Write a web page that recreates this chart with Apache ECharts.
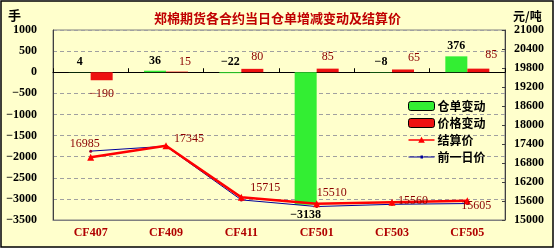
<!DOCTYPE html>
<html><head><meta charset="utf-8">
<script src="https://cdn.jsdelivr.net/npm/echarts@6/dist/echarts.min.js"></script>
<style>html,body{margin:0;padding:0;background:#fff}#c{width:555px;height:250px}</style>
</head><body><div id="c"></div>
<script>
const categories = ['CF407','CF409','CF411','CF501','CF503','CF505'];
const receiptChange = [4, 36, -22, -3138, -8, 376];
const priceChange = [-190, 15, 80, 85, 65, 85];
const settlePrice = [16985, 17345, 15715, 15510, 15560, 15605];
const prevPrice = [17175, 17330, 15635, 15425, 15495, 15520];
const leftTicks = {min: -3500, max: 1000, interval: 500};
const rightTicks = {min: 15000, max: 21000, interval: 600};

const serif = '"Liberation Serif","Times New Roman",serif';
const cjk = '"Noto Sans CJK SC",sans-serif';
const darkRed = '#8B0000';
const fmt = v => String(v).replace('-', '\u2212');

// label tweaks (style only)
const receiptLabelPos = ['top','top','top','bottom','top','top'];
const priceLabelOff = [[0,2],[8,2],[5,0],[0,0],[11,0],[13,-2]];
const priceLabelPos = ['bottom','top','top','top','top','top'];
const settleLabelOff = [[-6,-13],[23,-7],[24,-10],[15,-11],[21,-1],[9,5]];

const settleIcon = 'path://M0,0L0.01,0L0.01,0.01ZM0,9L0.01,9L0.01,8.99ZM0,3.7L26,3.7L26,5.3L0,5.3ZM13,1.2L16.3,7.2L9.7,7.2Z';
const prevIcon = 'path://M0,0L0.01,0L0.01,0.01ZM0,9L0.01,9L0.01,8.99ZM0,4L26,4L26,5L0,5ZM12,3L14.5,3L14.5,6L12,6Z';

const chart = echarts.init(document.getElementById('c'), null, {renderer:'canvas'});
chart.setOption({
  backgroundColor: 'transparent',
  animation: false,
  graphic: [{
    type:'rect', z:-10, silent:true,
    shape:{x:1,y:1,width:552,height:246},
    style:{fill:'#FFFFCC', stroke:'#000', lineWidth:1.5}
  }],
  title: {
    text: '郑棉期货各合约当日仓单增减变动及结算价',
    left: 'center', top: 7,
    textStyle: {fontFamily: cjk, fontSize: 13, fontWeight: 'bold', color: '#C00000'}
  },
  legend: {
    orient: 'vertical', left: 403, top: 95, itemGap: 5,
    itemWidth: 26, itemHeight: 9,
    textStyle: {fontFamily: cjk, fontSize: 12, fontWeight: 'bold', color: '#000', padding:[0,0,0,-2]},
    data: [
      {name:'仓单变动', itemStyle:{borderColor:'#000', borderWidth:1}},
      {name:'价格变动', itemStyle:{borderColor:'#000', borderWidth:1}},
      {name:'结算价', icon: settleIcon, itemStyle:{color:'#FF0000'}},
      {name:'前一日价', icon: prevIcon, itemStyle:{color:'#000099'}}
    ]
  },
  grid: {left: 53, right: 50, top: 30, bottom: 30, show: true, borderColor: '#808080', borderWidth: 1, backgroundColor:'transparent'},
  xAxis: [{
    type: 'category', data: categories, position: 'bottom',
    axisLine: {onZero: false, lineStyle:{color:'#808080'}},
    axisTick: {show: false},
    axisLabel: {margin: 7, fontFamily: serif, fontSize: 12, fontWeight: 'bold', color: '#B00000'}
  },{
    type: 'category', data: categories, position: 'bottom',
    axisLine: {onZero: true, onZeroAxisIndex: 0, lineStyle:{color:'#000', width:1}},
    axisTick: {show: true, inside: true, length: 4, lineStyle:{color:'#000'}},
    axisLabel: {show: false}
  }],
  yAxis: [{
    type: 'value', min: leftTicks.min, max: leftTicks.max, interval: leftTicks.interval,
    name: '手', nameLocation: 'end', nameGap: 8,
    nameTextStyle: {fontFamily: cjk, fontSize: 13, fontWeight: 'bold', color: '#000', align: 'right', padding:[0,32,0,0]},
    axisLine: {show: true, lineStyle:{color:'#404040'}},
    axisTick: {show: false},
    axisLabel: {margin: 16, fontFamily: serif, fontSize: 12, fontWeight: 'bold', color: '#000', formatter: fmt},
    splitLine: {show: true, lineStyle: {type: [4,3], color: '#A0A0A0'}}
  },{
    type: 'value', min: rightTicks.min, max: rightTicks.max, interval: rightTicks.interval,
    position: 'right',
    name: '元/吨', nameLocation: 'end', nameGap: 8,
    nameTextStyle: {fontFamily: cjk, fontSize: 12, fontWeight: 'bold', color: '#000', align: 'left', padding:[0,0,0,8]},
    axisLine: {show: true, lineStyle:{color:'#404040'}},
    axisTick: {show: true, inside: true, length: 3, lineStyle:{color:'#404040'}},
    axisLabel: {margin: 9, fontFamily: serif, fontSize: 12, fontWeight: 'bold', color: '#000', formatter: fmt},
    splitLine: {show: false}
  }],
  series: [{
    name: '仓单变动', type: 'bar', xAxisIndex: 0, yAxisIndex: 0,
    barWidth: 22, barGap: '0%',
    itemStyle: {color: '#33EE33'},
    data: receiptChange.map((v,i)=>({value:v, label:{position: receiptLabelPos[i]}})),
    label: {show: true, distance: 4, fontFamily: serif, fontSize: 12, fontWeight: 'bold', color: '#000', formatter: p => fmt(p.value)}
  },{
    name: '价格变动', type: 'bar', xAxisIndex: 0, yAxisIndex: 0,
    barWidth: 22,
    itemStyle: {color: '#EE1111'},
    data: priceChange.map((v,i)=>({value:v, label:{position: priceLabelPos[i], offset: priceLabelOff[i]}})),
    label: {show: true, distance: 6, fontFamily: serif, fontSize: 12, color: darkRed, formatter: p => fmt(p.value)}
  },{
    name: '结算价', type: 'line', xAxisIndex: 0, yAxisIndex: 1,
    symbol: 'triangle', symbolSize: 7,
    lineStyle: {color: '#FF0000', width: 2.5},
    itemStyle: {color: '#FF0000'},
    data: settlePrice.map((v,i)=>({value:v, label:{offset: settleLabelOff[i]}})),
    label: {show: true, position: 'inside', fontFamily: serif, fontSize: 12, color: darkRed},
    z: 4
  },{
    name: '前一日价', type: 'line', xAxisIndex: 0, yAxisIndex: 1,
    symbol: 'circle', symbolSize: 3,
    lineStyle: {color: '#000099', width: 1},
    itemStyle: {color: '#990033'},
    data: prevPrice,
    z: 3
  }]
});
</script></body></html>
